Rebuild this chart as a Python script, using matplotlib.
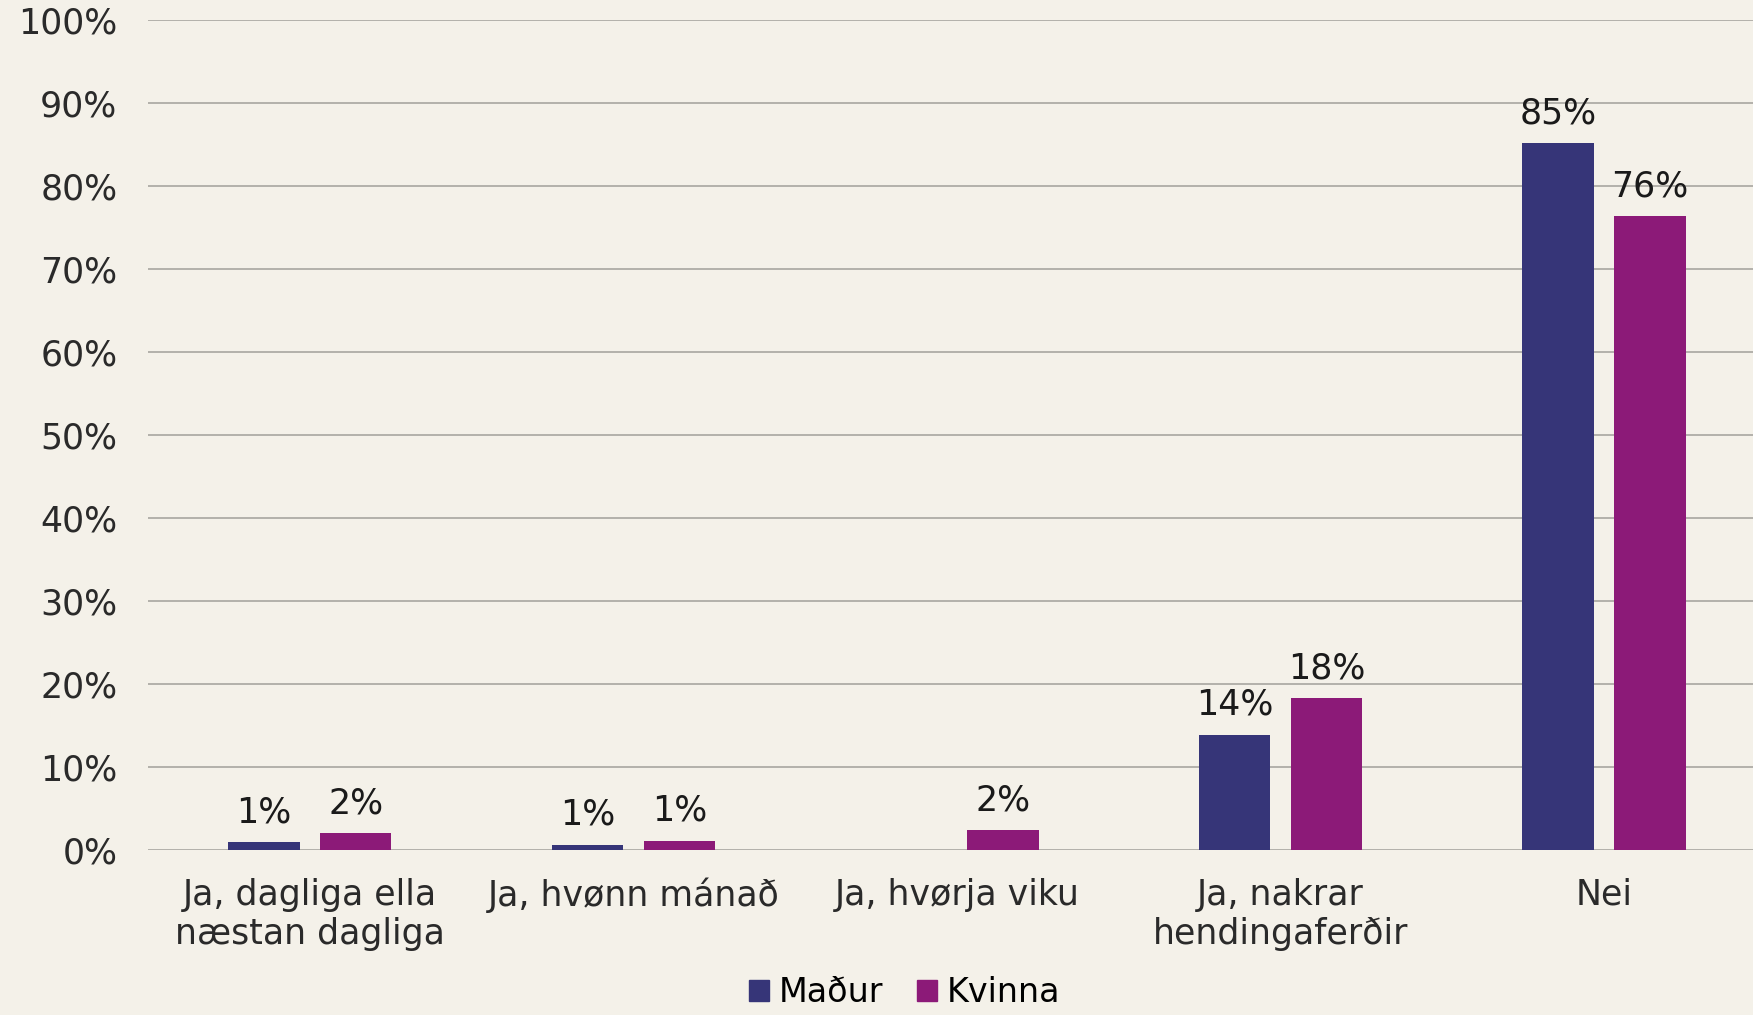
import numpy as np
import matplotlib.pyplot as plt
from matplotlib.patches import Patch

categories = ["Ja, dagliga ella\nnæstan dagliga", "Ja, hvønn mánað", "Ja, hvørja viku",
              "Ja, nakrar\nhendingaferðir", "Nei"]
madur = [0.9, 0.6, 0.0, 13.9, 85.2]
kvinna = [2.0, 1.1, 2.4, 18.3, 76.4]
series_names = ["Maður", "Kvinna"]
yticks = [0, 10, 20, 30, 40, 50, 60, 70, 80, 90, 100]

bg = "#f4f1e9"
col_m = "#363578"
col_k = "#8c1a78"
fs = 25

plt.rcParams['font.family'] = ['DejaVu Sans']
fig = plt.figure(figsize=(17.53, 10.15), dpi=100, facecolor=bg)
ax = fig.add_axes([0.0844, 0.1626, 0.9156, 0.8174], facecolor=bg)

x = np.arange(len(categories))
w = 0.221
off = 0.142
bm = ax.bar(x - off, madur, w, color=col_m, zorder=3)
bk = ax.bar(x + off, kvinna, w, color=col_k, zorder=3)

for bars, vals in ((bm, madur), (bk, kvinna)):
    for b, v in zip(bars, vals):
        if v <= 0:
            continue
        ax.annotate(f"{round(v)}%", (b.get_x() + b.get_width() / 2, v),
                    xytext=(0, 13), textcoords="offset pixels",
                    ha="center", va="bottom", fontsize=fs, color="#1a1a1a")

ax.set_ylim(0, 100)
ax.set_xlim(-0.5, 4.46)
ax.set_yticks(yticks)
ax.set_yticklabels([f"{t}%" for t in yticks], fontsize=fs, color="#2a2a2a")
ax.set_xticks(x)
ax.set_xticklabels(categories, fontsize=fs, color="#2a2a2a", linespacing=1.2)
ax.tick_params(axis="both", length=0)
ax.tick_params(axis="y", pad=22)
ax.tick_params(axis="x", pad=20)
ax.grid(axis="y", color="#aeaca6", linewidth=1.3, zorder=0)
for s in ax.spines.values():
    s.set_visible(False)

handles = [Patch(color=col_m), Patch(color=col_k)]
fig.legend(handles, series_names, loc="center", bbox_to_anchor=(0.516, 0.022),
           ncol=2, frameon=False, fontsize=24, handlelength=0.6, handleheight=0.6,
           handletextpad=0.3, columnspacing=1.0)

fig.savefig("out.png", dpi=100, facecolor=bg)
